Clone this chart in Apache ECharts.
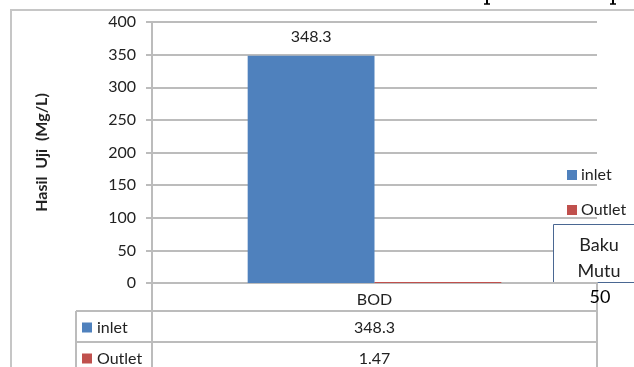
<!DOCTYPE html>
<html>
<head>
<meta charset="utf-8">
<script src="https://cdn.jsdelivr.net/npm/echarts@6/dist/echarts.min.js"></script>
<style>
  html, body { margin: 0; padding: 0; background: #fff; }
  #main { width: 634px; height: 367px; }
</style>
</head>
<body>
<div id="main"></div>
<script>
var categories = ['BOD'];
var seriesNames = ['inlet', 'Outlet'];
var inletValues = [348.3];
var outletValues = [1.47];
var seriesColors = ['#4F81BD', '#C0504D'];
var bakuMutuLabel = 'Baku\nMutu';
var bakuMutuValue = 50;

var font = 'Lato, "Open Sans", sans-serif';
var textColor = '#222';
var lineColor = '#bcbcbc';

var chart = echarts.init(document.getElementById('main'));

var option = {
  animation: false,
  grid: { left: 152, right: 37, top: 22, bottom: 84, containLabel: false },
  legend: {
    orient: 'vertical',
    left: 562,
    top: 162,
    itemWidth: 10,
    itemHeight: 10,
    itemGap: 19,
    icon: 'rect',
    data: seriesNames,
    textStyle: { fontFamily: font, fontSize: 16, color: textColor, padding: [0, 0, 0, -1] }
  },
  xAxis: {
    type: 'category',
    data: categories,
    axisLine: { lineStyle: { color: lineColor, width: 2 } },
    axisTick: { show: false },
    axisLabel: { fontFamily: font, fontSize: 16, color: textColor, margin: 9 }
  },
  yAxis: {
    type: 'value',
    min: 0,
    max: 400,
    interval: 50,
    name: 'Hasil  Uji  (Mg/L)',
    nameLocation: 'middle',
    nameGap: 102,
    nameTextStyle: { fontFamily: font, fontSize: 16, fontWeight: 'bold', color: textColor },
    axisLine: { show: true, lineStyle: { color: lineColor, width: 2 } },
    axisTick: { show: true, length: 6, lineStyle: { color: lineColor, width: 2 } },
    axisLabel: { fontFamily: font, fontSize: 16, color: textColor, margin: 16 },
    splitLine: { lineStyle: { color: lineColor, width: 2 } }
  },
  series: [
    {
      name: seriesNames[0],
      type: 'bar',
      data: inletValues,
      barGap: '0%',
      barCategoryGap: '43%',
      itemStyle: { color: seriesColors[0] },
      label: { show: true, position: 'top', distance: 11, fontFamily: font, fontSize: 16, color: textColor }
    },
    {
      name: seriesNames[1],
      type: 'bar',
      data: outletValues,
      itemStyle: { color: seriesColors[1] }
    }
  ]
};

chart.setOption(option);

// data table + decorations, placed from the grid
var x0 = chart.convertToPixel({ yAxisIndex: 0 }, 0);
var axisX = chart.convertToPixel({ xAxisIndex: 0 }, categories[0]);
var gridLeft = 152, gridRight = 634 - 37;
var tableLeft = 76, rowTop = x0 + 28, rowH = 31;
var allValues = [inletValues, outletValues];

var g = [];
// outer frame
g.push({ type: 'polyline', shape: { points: [[11, 367], [11, 10], [634, 10]] },
  style: { stroke: '#c6c6c6', lineWidth: 2, fill: null }, silent: true });
// descenders of the page text cut off above the chart
[487, 613].forEach(function (px) {
  g.push({ type: 'line', shape: { x1: px, y1: 0, x2: px, y2: 4 }, style: { stroke: '#000', lineWidth: 2 } });
  g.push({ type: 'line', shape: { x1: px - 3, y1: 4, x2: px + 3, y2: 4 }, style: { stroke: '#000', lineWidth: 1.5 } });
});
// table vertical lines
g.push({ type: 'line', shape: { x1: gridLeft, y1: x0, x2: gridLeft, y2: 367 }, style: { stroke: lineColor, lineWidth: 2 } });
g.push({ type: 'line', shape: { x1: gridRight, y1: x0, x2: gridRight, y2: 367 }, style: { stroke: lineColor, lineWidth: 2 } });
g.push({ type: 'line', shape: { x1: tableLeft, y1: rowTop, x2: tableLeft, y2: 367 }, style: { stroke: lineColor, lineWidth: 2 } });
for (var r = 0; r < seriesNames.length; r++) {
  var yTop = rowTop + r * rowH;
  g.push({ type: 'line', shape: { x1: tableLeft, y1: yTop, x2: gridRight, y2: yTop }, style: { stroke: lineColor, lineWidth: 2 } });
  var yc = yTop + rowH / 2 + 1;
  g.push({ type: 'rect', shape: { x: 82, y: yc - 5, width: 10, height: 10 }, style: { fill: seriesColors[r] } });
  g.push({ type: 'text', x: 97, y: yc, style: { text: seriesNames[r], font: '16px ' + font, fill: textColor, textVerticalAlign: 'middle' } });
  g.push({ type: 'text', x: axisX, y: yc, style: { text: String(allValues[r][0]), font: '16px ' + font, fill: textColor, textAlign: 'center', textVerticalAlign: 'middle' } });
}
// Baku Mutu text box
g.push({ type: 'rect', shape: { x: 553.5, y: 224.5, width: 100, height: 58 }, style: { fill: '#fff', stroke: '#4a6792', lineWidth: 1 } });
g.push({ type: 'text', x: 599, y: 258, style: { text: bakuMutuLabel, font: '18px ' + font, fill: textColor, textAlign: 'center', textVerticalAlign: 'middle', lineHeight: 26 } });
g.push({ type: 'text', x: 600, y: 297, style: { text: String(bakuMutuValue), font: '18px ' + font, fill: '#000', textAlign: 'center', textVerticalAlign: 'middle' } });

chart.setOption({ graphic: g });
</script>
</body>
</html>
